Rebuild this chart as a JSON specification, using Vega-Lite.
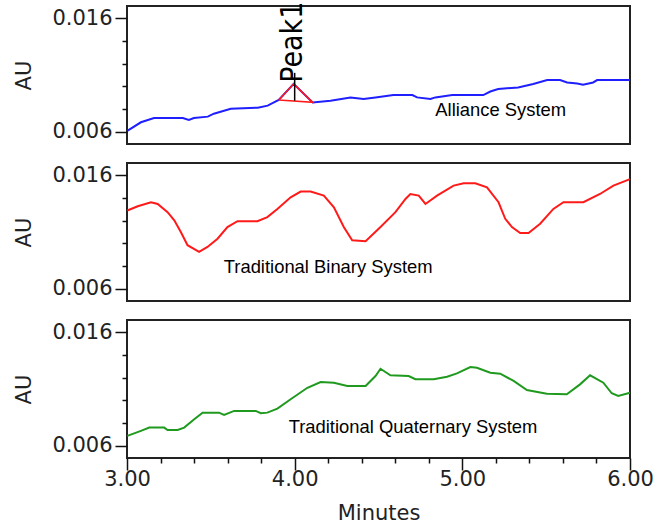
{
  "$schema": "https://vega.github.io/schema/vega-lite/v6.json",
  "padding": {"left": 12, "top": 0, "right": 5, "bottom": 5},
  "background": "white",
  "bounds": "flush",
  "spacing": 19,
  "config": {
    "view": {"stroke": "#222222", "strokeWidth": 2},
    "axis": {
      "domain": false,
      "grid": false,
      "tickColor": "#111111",
      "tickWidth": 1.5,
      "tickCount": 100,
      "labelFont": "DejaVu Sans",
      "labelFontSize": 21,
      "labelColor": "#222222",
      "titleFont": "DejaVu Sans",
      "titleFontSize": 21,
      "titleFontWeight": "normal",
      "titleColor": "#222222",
      "labelFlush": false,
      "labelOverlap": false
    }
  },
  "vconcat": [
    {
      "width": 503,
      "height": 138,
      "layer": [
        {
          "data": {"values": [
            {"t": 3.004, "v": 0.00609}, {"t": 3.083, "v": 0.00682}, {"t": 3.161, "v": 0.00720}, {"t": 3.333, "v": 0.00720},
            {"t": 3.369, "v": 0.00703}, {"t": 3.399, "v": 0.00720}, {"t": 3.482, "v": 0.00732}, {"t": 3.518, "v": 0.00758},
            {"t": 3.619, "v": 0.00802}, {"t": 3.780, "v": 0.00811}, {"t": 3.839, "v": 0.00829}, {"t": 3.905, "v": 0.00879},
            {"t": 3.994, "v": 0.01022}, {"t": 4.107, "v": 0.00858}, {"t": 4.214, "v": 0.00873}, {"t": 4.333, "v": 0.00902},
            {"t": 4.411, "v": 0.00888}, {"t": 4.482, "v": 0.00902}, {"t": 4.589, "v": 0.00923}, {"t": 4.702, "v": 0.00923},
            {"t": 4.730, "v": 0.00902}, {"t": 4.810, "v": 0.00888}, {"t": 4.839, "v": 0.00902}, {"t": 4.940, "v": 0.00923},
            {"t": 5.125, "v": 0.00923}, {"t": 5.167, "v": 0.00954}, {"t": 5.214, "v": 0.00976}, {"t": 5.333, "v": 0.00990},
            {"t": 5.423, "v": 0.01020}, {"t": 5.506, "v": 0.01055}, {"t": 5.583, "v": 0.01055}, {"t": 5.625, "v": 0.01034},
            {"t": 5.685, "v": 0.01025}, {"t": 5.720, "v": 0.01013}, {"t": 5.780, "v": 0.01034}, {"t": 5.804, "v": 0.01055},
            {"t": 6.000, "v": 0.01055}
          ]},
          "mark": {"type": "line", "color": "#1f1fff", "strokeWidth": 2},
          "encoding": {
            "x": {"field": "t", "type": "quantitative", "scale": {"domain": [3, 6], "nice": false, "zero": false}, "axis": null},
            "y": {"field": "v", "type": "quantitative", "scale": {"domain": [0.0049, 0.0171], "nice": false, "zero": false},
              "axis": {
                "title": "AU",
                "values": [0.006, 0.008, 0.01, 0.012, 0.014, 0.016],
                "tickCount": 100,
                "labelExpr": "(abs(datum.value-0.006)<0.0001 || abs(datum.value-0.016)<0.0001) ? format(datum.value,'.3f') : ''",
                "tickSize": {"condition": {"test": "abs(datum.value-0.006)<0.0001 || abs(datum.value-0.016)<0.0001", "value": 12}, "value": 5},
                "labelOverlap": false,
                "labelPadding": 3,
                "titlePadding": 17
              }
            }
          }
        },
        {
          "data": {"values": [
            {"t": 3.905, "v": 0.00879, "o": 1}, {"t": 3.994, "v": 0.01022, "o": 2}, {"t": 4.107, "v": 0.00858, "o": 3}, {"t": 3.905, "v": 0.00879, "o": 4}
          ]},
          "mark": {"type": "line", "color": "#ff1a1a", "strokeWidth": 1.6},
          "encoding": {
            "x": {"field": "t", "type": "quantitative"},
            "y": {"field": "v", "type": "quantitative"},
            "order": {"field": "o", "type": "quantitative"}
          }
        },
        {
          "data": {"values": [{"t": 4.0, "v": 0.00873, "v2": 0.01119}]},
          "mark": {"type": "rule", "color": "#000000", "strokeWidth": 1.5},
          "encoding": {
            "x": {"field": "t", "type": "quantitative"},
            "y": {"field": "v", "type": "quantitative"},
            "y2": {"field": "v2"}
          }
        },
        {
          "data": {"values": [{"t": 4.044, "v": 0.01031, "label": "Peak1"}]},
          "mark": {"type": "text", "angle": 270, "align": "left", "baseline": "alphabetic", "font": "Liberation Sans Narrow, DejaVu Sans Condensed, Liberation Sans", "fontSize": 30, "color": "#000000"},
          "encoding": {
            "x": {"field": "t", "type": "quantitative"},
            "y": {"field": "v", "type": "quantitative"},
            "text": {"field": "label"}
          }
        },
        {
          "data": {"values": [{"t": 4.839, "v": 0.00741, "label": "Alliance System"}]},
          "mark": {"type": "text", "align": "left", "baseline": "alphabetic", "font": "Liberation Sans", "fontSize": 18.4, "color": "#000000"},
          "encoding": {
            "x": {"field": "t", "type": "quantitative"},
            "y": {"field": "v", "type": "quantitative"},
            "text": {"field": "label"}
          }
        }
      ]
    },
    {
      "width": 503,
      "height": 138,
      "layer": [
        {
          "data": {"values": [
            {"t": 3.002, "v": 0.01290}, {"t": 3.064, "v": 0.01328}, {"t": 3.143, "v": 0.01363}, {"t": 3.183, "v": 0.01348},
            {"t": 3.242, "v": 0.01275}, {"t": 3.282, "v": 0.01203}, {"t": 3.321, "v": 0.01100}, {"t": 3.361, "v": 0.00983},
            {"t": 3.430, "v": 0.00925}, {"t": 3.480, "v": 0.00968}, {"t": 3.540, "v": 0.01041}, {"t": 3.599, "v": 0.01144},
            {"t": 3.659, "v": 0.01196}, {"t": 3.778, "v": 0.01196}, {"t": 3.837, "v": 0.01232}, {"t": 3.897, "v": 0.01304},
            {"t": 3.976, "v": 0.01407}, {"t": 4.036, "v": 0.01457}, {"t": 4.095, "v": 0.01457}, {"t": 4.174, "v": 0.01422},
            {"t": 4.234, "v": 0.01319}, {"t": 4.293, "v": 0.01144}, {"t": 4.343, "v": 0.01027}, {"t": 4.423, "v": 0.01018},
            {"t": 4.512, "v": 0.01144}, {"t": 4.601, "v": 0.01275}, {"t": 4.661, "v": 0.01392}, {"t": 4.690, "v": 0.01436},
            {"t": 4.740, "v": 0.01422}, {"t": 4.780, "v": 0.01348}, {"t": 4.849, "v": 0.01422}, {"t": 4.948, "v": 0.01510},
            {"t": 5.008, "v": 0.01530}, {"t": 5.077, "v": 0.01530}, {"t": 5.147, "v": 0.01495}, {"t": 5.216, "v": 0.01363},
            {"t": 5.256, "v": 0.01217}, {"t": 5.296, "v": 0.01144}, {"t": 5.345, "v": 0.01091}, {"t": 5.395, "v": 0.01091},
            {"t": 5.464, "v": 0.01173}, {"t": 5.543, "v": 0.01304}, {"t": 5.603, "v": 0.01363}, {"t": 5.722, "v": 0.01363},
            {"t": 5.821, "v": 0.01436}, {"t": 5.901, "v": 0.01510}, {"t": 6.000, "v": 0.01568}
          ]},
          "mark": {"type": "line", "color": "#ff1a1a", "strokeWidth": 2},
          "encoding": {
            "x": {"field": "t", "type": "quantitative", "scale": {"domain": [3, 6], "nice": false, "zero": false}, "axis": null},
            "y": {"field": "v", "type": "quantitative", "scale": {"domain": [0.0049, 0.0171], "nice": false, "zero": false},
              "axis": {
                "title": "AU",
                "values": [0.006, 0.008, 0.01, 0.012, 0.014, 0.016],
                "tickCount": 100,
                "labelExpr": "(abs(datum.value-0.006)<0.0001 || abs(datum.value-0.016)<0.0001) ? format(datum.value,'.3f') : ''",
                "tickSize": {"condition": {"test": "abs(datum.value-0.006)<0.0001 || abs(datum.value-0.016)<0.0001", "value": 12}, "value": 5},
                "labelOverlap": false,
                "labelPadding": 3,
                "titlePadding": 17
              }
            }
          }
        },
        {
          "data": {"values": [{"t": 3.577, "v": 0.00738, "label": "Traditional Binary System"}]},
          "mark": {"type": "text", "align": "left", "baseline": "alphabetic", "font": "Liberation Sans", "fontSize": 18.4, "color": "#000000"},
          "encoding": {
            "x": {"field": "t", "type": "quantitative"},
            "y": {"field": "v", "type": "quantitative"},
            "text": {"field": "label"}
          }
        }
      ]
    },
    {
      "width": 503,
      "height": 138,
      "layer": [
        {
          "data": {"values": [
            {"t": 3.002, "v": 0.00686}, {"t": 3.083, "v": 0.00730}, {"t": 3.133, "v": 0.00759}, {"t": 3.222, "v": 0.00759},
            {"t": 3.242, "v": 0.00738}, {"t": 3.302, "v": 0.00738}, {"t": 3.341, "v": 0.00759}, {"t": 3.401, "v": 0.00833},
            {"t": 3.451, "v": 0.00891}, {"t": 3.549, "v": 0.00891}, {"t": 3.579, "v": 0.00871}, {"t": 3.639, "v": 0.00906},
            {"t": 3.768, "v": 0.00906}, {"t": 3.798, "v": 0.00886}, {"t": 3.837, "v": 0.00891}, {"t": 3.897, "v": 0.00926},
            {"t": 3.976, "v": 0.01009}, {"t": 4.076, "v": 0.01111}, {"t": 4.155, "v": 0.01162}, {"t": 4.234, "v": 0.01156},
            {"t": 4.314, "v": 0.01126}, {"t": 4.423, "v": 0.01126}, {"t": 4.482, "v": 0.01215}, {"t": 4.512, "v": 0.01279},
            {"t": 4.571, "v": 0.01221}, {"t": 4.680, "v": 0.01215}, {"t": 4.720, "v": 0.01186}, {"t": 4.829, "v": 0.01186},
            {"t": 4.909, "v": 0.01208}, {"t": 4.968, "v": 0.01238}, {"t": 5.048, "v": 0.01294}, {"t": 5.087, "v": 0.01288},
            {"t": 5.167, "v": 0.01244}, {"t": 5.226, "v": 0.01235}, {"t": 5.306, "v": 0.01171}, {"t": 5.385, "v": 0.01091},
            {"t": 5.504, "v": 0.01059}, {"t": 5.623, "v": 0.01053}, {"t": 5.702, "v": 0.01141}, {"t": 5.762, "v": 0.01221},
            {"t": 5.841, "v": 0.01156}, {"t": 5.891, "v": 0.01062}, {"t": 5.930, "v": 0.01038}, {"t": 6.000, "v": 0.01067}
          ]},
          "mark": {"type": "line", "color": "#1f9a1f", "strokeWidth": 2},
          "encoding": {
            "x": {"field": "t", "type": "quantitative", "scale": {"domain": [3, 6], "nice": false, "zero": false},
              "axis": {
                "title": "Minutes",
                "values": [3, 3.2, 3.4, 3.6, 3.8, 4, 4.2, 4.4, 4.6, 4.8, 5, 5.2, 5.4, 5.6, 5.8, 6],
                "tickCount": 100,
                "labelExpr": "abs(datum.value - round(datum.value)) < 0.01 ? format(datum.value, '.2f') : ''",
                "tickSize": {"condition": {"test": "abs(datum.value - round(datum.value)) < 0.01", "value": 12}, "value": 5},
                "labelOverlap": false,
                "labelPadding": -2,
                "titlePadding": 13
              }
            },
            "y": {"field": "v", "type": "quantitative", "scale": {"domain": [0.0049, 0.0171], "nice": false, "zero": false},
              "axis": {
                "title": "AU",
                "values": [0.006, 0.008, 0.01, 0.012, 0.014, 0.016],
                "tickCount": 100,
                "labelExpr": "(abs(datum.value-0.006)<0.0001 || abs(datum.value-0.016)<0.0001) ? format(datum.value,'.3f') : ''",
                "tickSize": {"condition": {"test": "abs(datum.value-0.006)<0.0001 || abs(datum.value-0.016)<0.0001", "value": 12}, "value": 5},
                "labelOverlap": false,
                "labelPadding": 3,
                "titlePadding": 17
              }
            }
          }
        },
        {
          "data": {"values": [{"t": 3.964, "v": 0.00712, "label": "Traditional Quaternary System"}]},
          "mark": {"type": "text", "align": "left", "baseline": "alphabetic", "font": "Liberation Sans", "fontSize": 18.4, "color": "#000000"},
          "encoding": {
            "x": {"field": "t", "type": "quantitative"},
            "y": {"field": "v", "type": "quantitative"},
            "text": {"field": "label"}
          }
        }
      ]
    }
  ]
}
